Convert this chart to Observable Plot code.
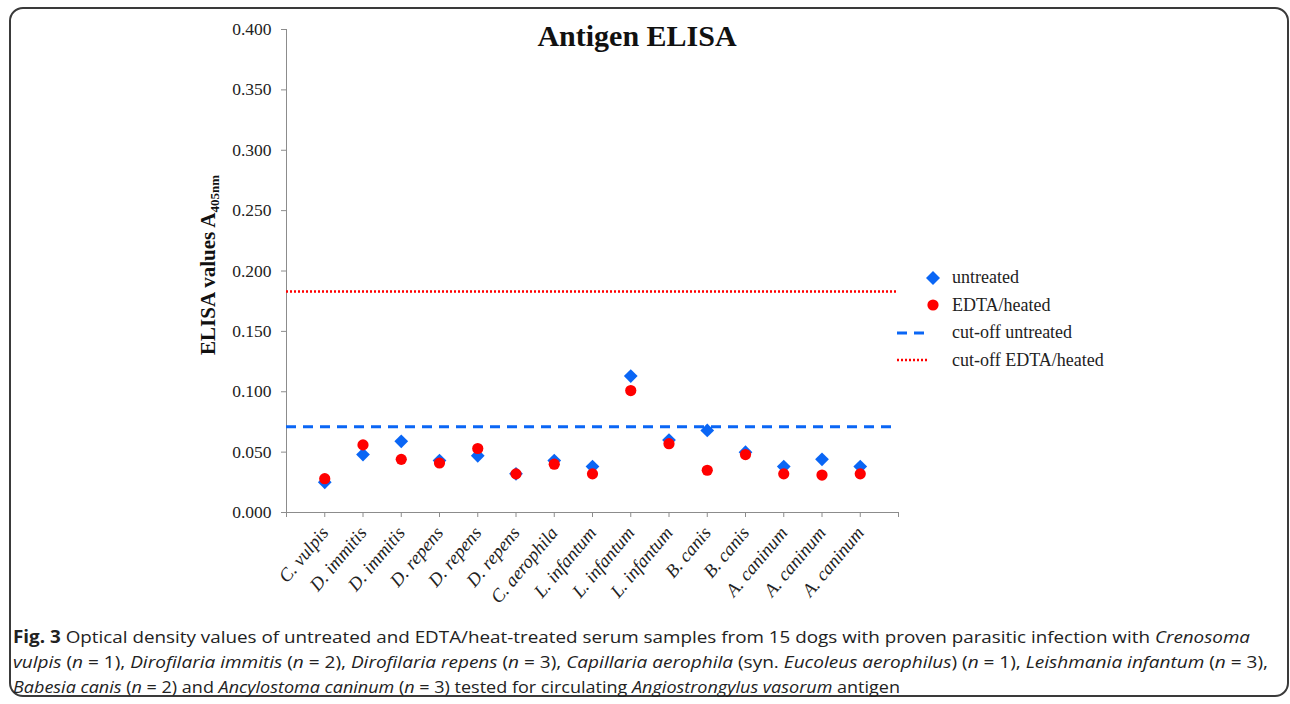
<!DOCTYPE html>
<html><head><meta charset="utf-8">
<script src="https://cdn.jsdelivr.net/npm/d3@7"></script>
<script src="https://cdn.jsdelivr.net/npm/@observablehq/plot@0.6"></script>
<style>
html,body{margin:0;padding:0;background:#fff}
body{width:1290px;height:704px;overflow:hidden;position:relative;font-family:"Liberation Serif","Times New Roman",serif}
#frame{position:absolute;left:9px;top:7px;width:1280px;height:690px;border:2px solid #3a3a3a;border-radius:14px;box-sizing:border-box}
#chart{position:absolute;left:0;top:0}
#title{position:absolute;left:637px;top:19px;transform:translateX(-50%);font-weight:bold;font-size:30px;color:#111;white-space:nowrap}
#ylabel{position:absolute;left:209px;top:265px;transform:translate(-50%,-50%) rotate(-90deg);font-weight:bold;font-size:21px;color:#111;white-space:nowrap}
#ylabel sub{font-size:13px;vertical-align:-4px}
#legend{position:absolute;left:893px;top:264px;font-size:18px;color:#222}
.li{height:27.5px;display:flex;align-items:center;white-space:nowrap}
.li svg{width:34px;height:20px;margin-right:25px;flex:none}
#caption{position:absolute;left:13px;top:624px;font-family:"Open Sans",sans-serif;font-size:17px;color:#222;line-height:25px}
#caption div{white-space:nowrap;height:25px}
#caption span.ln{display:inline-block;white-space:nowrap;transform-origin:0 50%}
#chart g[aria-label="y-axis tick"], #chart g[aria-label="x-axis tick"]{stroke:#8c8c8c}
#chart g[aria-label="x-axis tick label"]{font-style:italic;fill:#222;font-family:"Liberation Serif",serif;font-size:18.5px}
#chart g[aria-label="y-axis tick label"]{fill:#222;font-family:"Liberation Serif",serif;font-size:17.5px}
</style></head>
<body>
<div id="frame"></div>
<div id="chart"></div>
<div id="title">Antigen ELISA</div>
<div id="ylabel">ELISA values A<sub>405nm</sub></div>
<div id="legend"></div>
<div id="caption">
<div><span class="ln"><b>Fig. 3</b> Optical density values of untreated and EDTA/heat-treated serum samples from 15 dogs with proven parasitic infection with <i>Crenosoma</i></span></div>
<div><span class="ln"><i>vulpis</i> (<i>n</i> = 1), <i>Dirofilaria immitis</i> (<i>n</i> = 2), <i>Dirofilaria repens</i> (<i>n</i> = 3), <i>Capillaria aerophila</i> (syn. <i>Eucoleus aerophilus</i>) (<i>n</i> = 1), <i>Leishmania infantum</i> (<i>n</i> = 3),</span></div>
<div><span class="ln"><i>Babesia canis</i> (<i>n</i> = 2) and <i>Ancylostoma caninum</i> (<i>n</i> = 3) tested for circulating <i>Angiostrongylus vasorum</i> antigen</span></div>
</div>
<script>
const categories = ["C. vulpis","D. immitis","D. immitis","D. repens","D. repens","D. repens","C. aerophila","L. infantum","L. infantum","L. infantum","B. canis","B. canis","A. caninum","A. caninum","A. caninum"];
const untreated = [0.025,0.048,0.059,0.043,0.047,0.032,0.043,0.038,0.113,0.060,0.068,0.050,0.038,0.044,0.038];
const edtaHeated = [0.028,0.056,0.044,0.041,0.053,0.032,0.040,0.032,0.101,0.057,0.035,0.048,0.032,0.031,0.032];
const cutoffUntreated = 0.071;
const cutoffEdtaHeated = 0.183;
const yTicks = [0,0.05,0.1,0.15,0.2,0.25,0.3,0.35,0.4];
const seriesNames = ["untreated","EDTA/heated","cut-off untreated","cut-off EDTA/heated"];

const BLUE = "#0a66f5", RED = "#ff0000";
const xTicks = d3.range(-1, categories.length + 1);
const uData = untreated.map((v,i)=>({i, v}));
const eData = edtaHeated.map((v,i)=>({i, v}));

const chart = Plot.plot({
  width: 1290, height: 610,
  marginLeft: 286, marginRight: 392, marginTop: 29, marginBottom: 98,
  style: {fontFamily: "Liberation Serif, serif", fontSize: "17px", background: "transparent"},
  x: {type: "linear", domain: [-1, categories.length]},
  y: {domain: [0, 0.4]},
  marks: [
    Plot.axisY({ticks: yTicks, tickFormat: d3.format(".3f"), tickSize: 5, tickPadding: 10, label: null}),
    Plot.axisX({ticks: xTicks, tickFormat: i => categories[i] ?? "", tickRotate: -50, tickSize: 5, tickPadding: 12, label: null}),
    Plot.ruleX([-1], {stroke: "#8c8c8c"}),
    Plot.ruleY([0], {stroke: "#8c8c8c"}),
    Plot.ruleY([cutoffUntreated], {stroke: BLUE, strokeWidth: 3, strokeDasharray: "10,7"}),
    Plot.ruleY([cutoffEdtaHeated], {stroke: RED, strokeWidth: 2.5, strokeDasharray: "2,2"}),
    Plot.dot(uData, {x: "i", y: "v", symbol: "diamond2", fill: BLUE, stroke: null, r: 6.2}),
    Plot.dot(eData, {x: "i", y: "v", symbol: "circle", fill: RED, stroke: null, r: 5.6})
  ]
});
document.getElementById("chart").appendChild(chart);

// legend
const legend = document.getElementById("legend");
const sym = [
  `<svg viewBox="0 0 34 20"><path d="M40,3 L47,10 L40,17 L33,10Z" fill="${BLUE}"/></svg>`,
  `<svg viewBox="0 0 34 20"><circle cx="40" cy="10" r="5.6" fill="${RED}"/></svg>`,
  `<svg viewBox="0 0 34 20"><line x1="4" x2="34" y1="10" y2="10" stroke="${BLUE}" stroke-width="3" stroke-dasharray="10,7"/></svg>`,
  `<svg viewBox="0 0 34 20"><line x1="4" x2="34" y1="10" y2="10" stroke="${RED}" stroke-width="2.5" stroke-dasharray="2,2"/></svg>`
];
seriesNames.forEach((n,k)=>{
  const d = document.createElement("div");
  d.className = "li";
  d.innerHTML = sym[k] + `<span>${n}</span>`;
  legend.appendChild(d);
});
document.querySelectorAll(".li svg").forEach(s=>s.setAttribute("overflow","visible"));

// fit caption lines to reference widths
const targets = [1237, 1255, 887];
document.querySelectorAll("#caption span.ln").forEach((el,k)=>{
  const w = el.getBoundingClientRect().width;
  el.style.transform = `scaleX(${targets[k]/w})`;
});
</script>
</body></html>
